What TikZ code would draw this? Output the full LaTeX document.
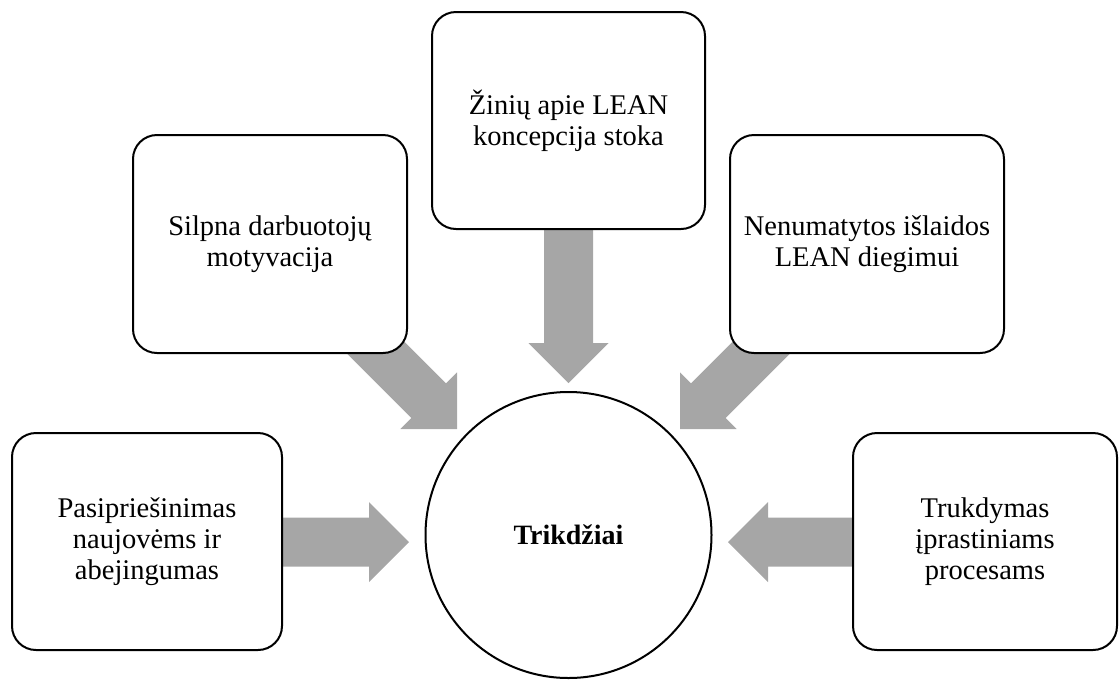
\documentclass[tikz,border=0pt]{standalone}
\usepackage{fontspec}
\setmainfont{Liberation Serif}
\usetikzlibrary{calc}

\definecolor{arrowgray}{HTML}{A6A6A6}

% block arrow: tip at #1, pointing along angle #2, total length #3
\newcommand\blockarrow[3]{%
  \begin{scope}[shift={#1}, rotate=#2]
    \fill[arrowgray] (0,0) -- (-40,40) -- (-40,24.5) -- (-#3,24.5)
      -- (-#3,-24.5) -- (-40,-24.5) -- (-40,-40) -- cycle;
  \end{scope}}

\tikzset{
  causebox/.style={draw=black, line width=2pt, fill=white, rounded corners=24pt},
  causetext/.style={align=center, font=\fontsize{28.5}{31}\selectfont},
  hub/.style={circle, draw=black, line width=2pt, fill=white, minimum size=286pt,
              inner sep=0pt, font=\fontsize{28}{28}\selectfont\bfseries}
}

\begin{document}
\begin{tikzpicture}[x=1pt, y=-1pt]
  \useasboundingbox (0,0) rectangle (1119,681);

  % tips of the block arrows
  \coordinate (tipW)  at (409,542);
  \coordinate (tipE)  at (728,542);
  \coordinate (tipN)  at (568.5,383);
  \coordinate (tipNW) at (457,429);
  \coordinate (tipNE) at (680,429);

  % arrows first, so the boxes hide their tails
  \blockarrow{(tipW)}{0}{140}
  \blockarrow{(tipE)}{180}{140}
  \blockarrow{(tipN)}{-90}{170}
  \blockarrow{(tipNW)}{-45}{156}
  \blockarrow{(tipNE)}{-135}{156}

  % cause boxes
  \draw[causebox] (12,433) rectangle (282,650);
  \draw[causebox] (133,135) rectangle (407,353);
  \draw[causebox] (432,12) rectangle (705,229);
  \draw[causebox] (730,135) rectangle (1004,353);
  \draw[causebox] (853,433) rectangle (1117,650);

  \node[causetext] (resist) at (147,541.5) {Pasipriešinimas\\naujovėms ir\\abejingumas};
  \node[causetext] (motiv)  at (270,244) {Silpna darbuotojų\\motyvacija};
  \node[causetext] (know)   at (568.5,120.5) {Žinių apie LEAN\\koncepcija stoka};
  \node[causetext] (cost)   at (867,244) {Nenumatytos išlaidos\\LEAN diegimui};
  \node[causetext] (interf) at (985,541.5) {Trukdymas\\įprastiniams\\procesams};

  % central circle
  \node[hub] (core) at (568.5,535) {Trikdžiai};
\end{tikzpicture}
\end{document}
